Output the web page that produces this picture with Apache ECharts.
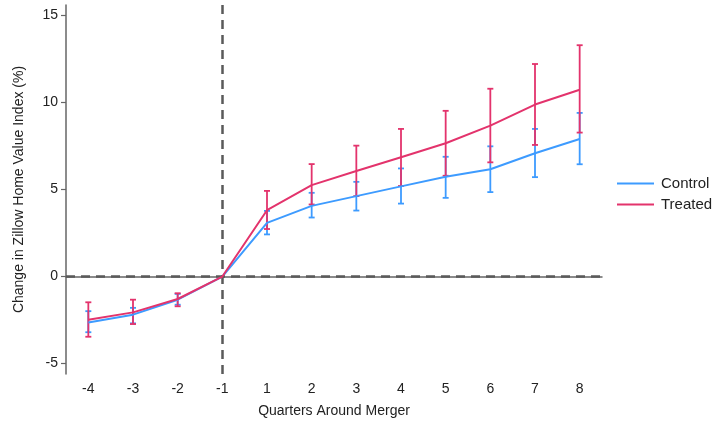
<!DOCTYPE html>
<html>
<head>
<meta charset="utf-8">
<script src="https://cdn.jsdelivr.net/npm/echarts@6/dist/echarts.min.js"></script>
<style>
  html, body { margin: 0; padding: 0; background: #fff; }
  #chart { width: 714px; height: 427px; }
</style>
</head>
<body>
<div id="chart"></div>
<script>
  // quarters around merger
  var quarters = ['-4', '-3', '-2', '-1', '1', '2', '3', '4', '5', '6', '7', '8']

  // control group: point estimate and CI bounds
  var controlMean = [-2.64, -2.19, -1.33, 0, 3.08, 4.06, 4.62, 5.18, 5.73, 6.16, 7.08, 7.9]
  var controlLow = [-3.2, -2.69, -1.62, null, 2.42, 3.39, 3.79, 4.19, 4.52, 4.85, 5.71, 6.45]
  var controlHigh = [-1.99, -1.8, -1.0, null, 3.77, 4.81, 5.44, 6.21, 6.88, 7.48, 8.48, 9.4]

  // treated group
  var treatedMean = [-2.48, -2.06, -1.29, 0, 3.81, 5.25, 6.06, 6.85, 7.66, 8.67, 9.88, 10.73]
  var treatedLow = [-3.46, -2.73, -1.71, null, 2.73, 4.14, 4.62, 5.2, 5.79, 6.56, 7.56, 8.27]
  var treatedHigh = [-1.48, -1.33, -0.96, null, 4.92, 6.46, 7.52, 8.48, 9.52, 10.79, 12.21, 13.29]

  var yTicks = [-5, 0, 5, 10, 15]

  var blue = '#3d9bff'
  var red = '#e3336c'
  var font = 'Liberation Sans, Arial, sans-serif'

  function capData(low, high) {
    var out = []
    for (var i = 0; i < quarters.length; i++) {
      if (low[i] == null) continue
      out.push([i, low[i], high[i]])
    }
    return out
  }

  function capRender(color) {
    return function (params, api) {
      var x = api.value(0)
      var lo = api.coord([x, api.value(1)])
      var hi = api.coord([x, api.value(2)])
      var w = 3
      var style = { stroke: color, lineWidth: 1.8 }
      return {
        type: 'group',
        children: [
          { type: 'line', shape: { x1: lo[0], y1: lo[1], x2: hi[0], y2: hi[1] }, style: style },
          { type: 'line', shape: { x1: lo[0] - w, y1: lo[1], x2: lo[0] + w, y2: lo[1] }, style: style },
          { type: 'line', shape: { x1: hi[0] - w, y1: hi[1], x2: hi[0] + w, y2: hi[1] }, style: style }
        ]
      }
    }
  }

  var dom = echarts.init(document.getElementById('chart'))
  var option = {
    animation: false,
    textStyle: { fontFamily: font },
    grid: { left: 66, top: 5, width: 536, height: 369 },
    legend: {
      orient: 'vertical',
      left: 612,
      top: 171,
      itemWidth: 37,
      itemHeight: 2,
      itemGap: 6,
      data: [
        { name: 'Control', icon: 'rect' },
        { name: 'Treated', icon: 'rect' }
      ],
      textStyle: { fontSize: 15, color: '#222', fontFamily: font, padding: [0, 0, 0, 2] }
    },
    xAxis: {
      type: 'category',
      data: quarters,
      boundaryGap: true,
      name: 'Quarters Around Merger',
      nameLocation: 'middle',
      nameGap: 30,
      nameTextStyle: { fontSize: 14, color: '#222' },
      axisLine: { lineStyle: { color: '#666', width: 1.5 } },
      axisTick: { alignWithLabel: true, length: 5, lineStyle: { color: '#666', width: 1.2 } },
      axisLabel: { fontSize: 14, color: '#222', margin: 8 },
      splitLine: { show: false }
    },
    yAxis: {
      type: 'value',
      min: -5.6,
      max: 15.6,
      name: 'Change in Zillow Home Value Index (%)',
      nameLocation: 'middle',
      nameGap: 40,
      nameTextStyle: { fontSize: 14, color: '#222' },
      axisLine: { show: true, lineStyle: { color: '#666', width: 1.5 } },
      axisTick: { show: true, length: 5, customValues: yTicks, lineStyle: { color: '#666', width: 1.2 } },
      axisLabel: { fontSize: 14, color: '#222', margin: 8, customValues: yTicks },
      splitLine: { show: false }
    },
    series: [
      {
        name: 'ControlCI',
        type: 'custom',
        renderItem: capRender(blue),
        data: capData(controlLow, controlHigh),
        z: 2
      },
      {
        name: 'TreatedCI',
        type: 'custom',
        renderItem: capRender(red),
        data: capData(treatedLow, treatedHigh),
        z: 3
      },
      {
        name: 'Control',
        type: 'line',
        data: controlMean,
        symbol: 'none',
        lineStyle: { color: blue, width: 2 },
        itemStyle: { color: blue },
        z: 4,
        markLine: {
          silent: true,
          symbol: 'none',
          label: { show: false },
          lineStyle: { color: '#5a5a5a', type: [9, 6], width: 2.5 },
          emphasis: { lineStyle: { width: 2.5 } },
          data: [{ xAxis: '-1' }, { yAxis: 0 }]
        }
      },
      {
        name: 'Treated',
        type: 'line',
        data: treatedMean,
        symbol: 'none',
        lineStyle: { color: red, width: 2 },
        itemStyle: { color: red },
        z: 5
      }
    ]
  }
  dom.setOption(option)
</script>
</body>
</html>
